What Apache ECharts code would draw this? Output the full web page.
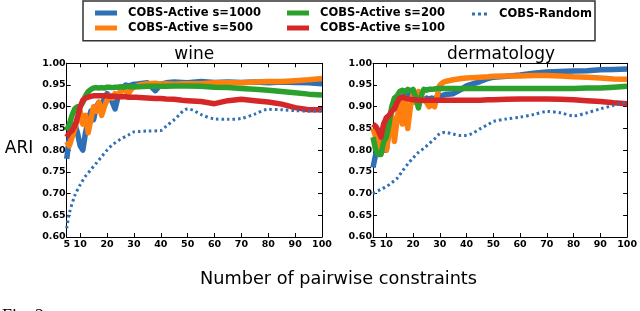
<!DOCTYPE html>
<html>
<head>
<meta charset="utf-8">
<script src="https://cdn.jsdelivr.net/npm/echarts@6/dist/echarts.min.js"></script>
<style>html,body{margin:0;padding:0;background:#fff}#c{width:640px;height:311px}</style>
</head>
<body>
<div id="c"></div>
<script>
// ---------- data ----------
const seriesNames = ['COBS-Active s=1000', 'COBS-Active s=500', 'COBS-Active s=200', 'COBS-Active s=100', 'COBS-Random'];
const panelTitles = ['wine', 'dermatology'];
const xTicks = [5, 10, 20, 30, 40, 50, 60, 70, 80, 90, 100];
const yTicksMin = 0.60, yTicksMax = 1.00, yTickStep = 0.05;

const xActive = [5,6,7,8,9,10,11,12,13,14,15,16,17,18,19,20,21,22,23,24,25,26,27,28,29,30,31,32,35,38,40,42,45,48,50,55,60,65,70,75,80,85,90,95,100];

const wine1000 = [0.78,0.83,0.85,0.86,0.84,0.81,0.80,0.84,0.87,0.89,0.87,0.90,0.91,0.90,0.92,0.93,0.925,0.91,0.895,0.92,0.935,0.945,0.95,0.948,0.95,0.952,0.952,0.953,0.955,0.937,0.952,0.955,0.957,0.956,0.955,0.958,0.956,0.957,0.956,0.957,0.955,0.957,0.956,0.955,0.953];
const wine500  = [0.82,0.81,0.83,0.85,0.87,0.89,0.86,0.88,0.84,0.87,0.90,0.89,0.91,0.88,0.90,0.915,0.925,0.92,0.93,0.925,0.935,0.94,0.935,0.93,0.94,0.945,0.947,0.95,0.953,0.954,0.952,0.953,0.952,0.953,0.953,0.953,0.955,0.955,0.955,0.957,0.958,0.958,0.96,0.962,0.965];
const wine200  = [0.845,0.86,0.88,0.895,0.90,0.90,0.91,0.925,0.935,0.94,0.943,0.944,0.943,0.944,0.943,0.945,0.945,0.944,0.945,0.945,0.946,0.945,0.946,0.946,0.946,0.946,0.946,0.946,0.947,0.947,0.947,0.947,0.948,0.948,0.948,0.947,0.945,0.944,0.942,0.94,0.938,0.935,0.932,0.929,0.927];
const wine100  = [0.83,0.84,0.845,0.855,0.875,0.90,0.915,0.92,0.922,0.924,0.925,0.925,0.925,0.925,0.925,0.925,0.924,0.924,0.924,0.923,0.923,0.923,0.923,0.922,0.922,0.922,0.922,0.921,0.92,0.919,0.919,0.918,0.917,0.915,0.914,0.912,0.907,0.914,0.917,0.914,0.911,0.906,0.898,0.893,0.893];

const derm1000 = [0.76,0.79,0.81,0.815,0.80,0.80,0.85,0.89,0.90,0.91,0.905,0.92,0.93,0.925,0.93,0.925,0.92,0.915,0.92,0.915,0.92,0.918,0.92,0.918,0.922,0.925,0.926,0.928,0.93,0.94,0.948,0.952,0.958,0.965,0.968,0.97,0.973,0.977,0.98,0.981,0.982,0.983,0.985,0.986,0.987];
const derm500  = [0.85,0.83,0.80,0.82,0.86,0.80,0.84,0.88,0.82,0.87,0.91,0.86,0.92,0.85,0.90,0.93,0.91,0.935,0.92,0.915,0.91,0.90,0.905,0.90,0.925,0.95,0.955,0.958,0.962,0.965,0.966,0.967,0.968,0.969,0.97,0.971,0.971,0.972,0.972,0.971,0.969,0.968,0.966,0.964,0.963];
const derm200  = [0.83,0.80,0.79,0.79,0.82,0.83,0.86,0.90,0.92,0.925,0.935,0.938,0.935,0.94,0.937,0.94,0.92,0.897,0.925,0.94,0.938,0.94,0.94,0.941,0.942,0.942,0.942,0.942,0.942,0.942,0.942,0.942,0.942,0.942,0.942,0.942,0.942,0.942,0.942,0.942,0.942,0.943,0.943,0.945,0.947];
const derm100  = [0.86,0.855,0.845,0.83,0.86,0.875,0.88,0.89,0.895,0.91,0.92,0.922,0.92,0.918,0.917,0.916,0.916,0.915,0.915,0.915,0.915,0.915,0.915,0.915,0.915,0.915,0.915,0.915,0.915,0.915,0.915,0.915,0.915,0.916,0.916,0.917,0.918,0.918,0.918,0.917,0.916,0.914,0.912,0.909,0.907];

const xWineRandom = [5,6,8,10,12,14,16,18,20,22,25,28,30,32,35,40,42,45,50,52,55,60,65,70,75,80,85,90,95,100];
const wineRandom  = [0.62,0.655,0.695,0.72,0.74,0.755,0.77,0.785,0.80,0.812,0.825,0.835,0.842,0.843,0.844,0.845,0.855,0.87,0.895,0.892,0.882,0.872,0.871,0.873,0.883,0.894,0.893,0.891,0.89,0.89];
const xDermRandom = [5,8,10,12,14,16,18,20,22,24,26,28,30,32,35,38,40,42,45,48,50,55,60,65,70,75,80,85,90,95,100];
const dermRandom  = [0.70,0.71,0.716,0.725,0.735,0.752,0.768,0.782,0.795,0.804,0.815,0.826,0.838,0.841,0.837,0.834,0.834,0.838,0.849,0.859,0.866,0.872,0.876,0.882,0.889,0.886,0.879,0.886,0.895,0.903,0.911];

// ---------- styling ----------
const colors = ['#2f6fb5', '#ff7f0e', '#2ca02c', '#d62728', '#2f6fb5'];
const FONT = 'DejaVu Sans';
const grids = [
  {left: 66.7, top: 63.3, width: 255.3, height: 173.7},
  {left: 373, top: 63.3, width: 256, height: 173.7}
];
const panels = [
  {active: [wine1000, wine500, wine200, wine100], rx: xWineRandom, ry: wineRandom},
  {active: [derm1000, derm500, derm200, derm100], rx: xDermRandom, ry: dermRandom}
];
const zip = (xs, ys) => xs.map((x, i) => [x, ys[i]]);

const xAxes = [], yAxes = [], series = [];
grids.forEach((g, gi) => {
  const tickLabel = {fontSize: 9.5, fontWeight: 'bold', color: '#000', fontFamily: FONT};
  ['bottom', 'top'].forEach(pos => {
    xAxes.push({
      type: 'value', gridIndex: gi, position: pos, min: 5, max: 100,
      axisLine: {show: true, onZero: false, lineStyle: {color: '#000', width: 1}},
      axisTick: {show: true, inside: true, length: 4, customValues: xTicks, lineStyle: {color: '#000'}},
      axisLabel: pos === 'bottom' ? Object.assign({customValues: xTicks, margin: 3}, tickLabel) : {show: false},
      splitLine: {show: false}
    });
  });
  ['left', 'right'].forEach(pos => {
    yAxes.push({
      type: 'value', gridIndex: gi, position: pos, min: yTicksMin, max: yTicksMax, interval: yTickStep,
      axisLine: {show: true, onZero: false, lineStyle: {color: '#000', width: 1}},
      axisTick: {show: true, inside: true, length: 4, lineStyle: {color: '#000'}},
      axisLabel: pos === 'left' ? Object.assign({margin: 1, formatter: v => v.toFixed(2)}, tickLabel) : {show: false},
      splitLine: {show: false}
    });
  });
  const p = panels[gi];
  p.active.forEach((ys, si) => {
    series.push({
      type: 'line', name: seriesNames[si], xAxisIndex: gi * 2, yAxisIndex: gi * 2,
      data: zip(xActive, ys), symbol: 'none', color: colors[si],
      lineStyle: {width: 5.5, color: colors[si], join: 'round'}, z: 2 + si
    });
  });
  series.push({
    type: 'line', name: seriesNames[4], xAxisIndex: gi * 2, yAxisIndex: gi * 2,
    data: zip(p.rx, p.ry), symbol: 'none', smooth: 0.3, color: colors[4],
    lineStyle: {width: 3, color: colors[4], type: [2.5, 3]}, z: 10
  });
});

const legendText = {fontSize: 11.5, fontWeight: 'bold', fontFamily: FONT, color: '#000', padding: [0, 0, 0, 6]};
const legendBase = {orient: 'vertical', top: 2, itemWidth: 22, itemHeight: 5, itemGap: 3, selectedMode: false, textStyle: legendText};
const dotIcon = 'path://M0,0h3v3h-3z M6,0h3v3h-3z M12,0h3v3h-3z';

const option = {
  animation: false,
  backgroundColor: '#fff',
  grid: grids,
  xAxis: xAxes,
  yAxis: yAxes,
  legend: [
    Object.assign({}, legendBase, {left: 90, icon: 'rect', data: [seriesNames[0], seriesNames[1]]}),
    Object.assign({}, legendBase, {left: 282, icon: 'rect', data: [seriesNames[2], seriesNames[3]]}),
    Object.assign({}, legendBase, {left: 467, icon: dotIcon, itemWidth: 15, itemHeight: 3, top: 3,
      textStyle: Object.assign({}, legendText, {padding: [0, 0, 0, 7]}), data: [seriesNames[4]]})
  ],
  series: series,
  graphic: [
    {type: 'rect', shape: {x: 83, y: 1, width: 512, height: 39.7}, style: {fill: 'none', stroke: '#333', lineWidth: 1.5}, z: 0},
    {type: 'text', x: 194.3, y: 55, style: {text: panelTitles[0], font: '17px "DejaVu Sans"', fill: '#000', align: 'center', verticalAlign: 'middle'}},
    {type: 'text', x: 501, y: 55, style: {text: panelTitles[1], font: '17px "DejaVu Sans"', fill: '#000', align: 'center', verticalAlign: 'middle'}},
    {type: 'text', x: 19, y: 149, style: {text: 'ARI', font: '17px "DejaVu Sans"', fill: '#000', align: 'center', verticalAlign: 'middle'}},
    {type: 'text', x: 338.5, y: 279, style: {text: 'Number of pairwise constraints', font: '17.7px "DejaVu Sans"', fill: '#000', align: 'center', verticalAlign: 'middle'}},
    {type: 'text', x: 2, y: 308, style: {text: 'Fig. 2', font: '18px "Liberation Serif"', fill: '#000', align: 'left', verticalAlign: 'top'}}
  ]
};
const chart = echarts.init(document.getElementById('c'), null, {renderer: 'canvas'});
chart.setOption(option);
</script>
</body>
</html>
